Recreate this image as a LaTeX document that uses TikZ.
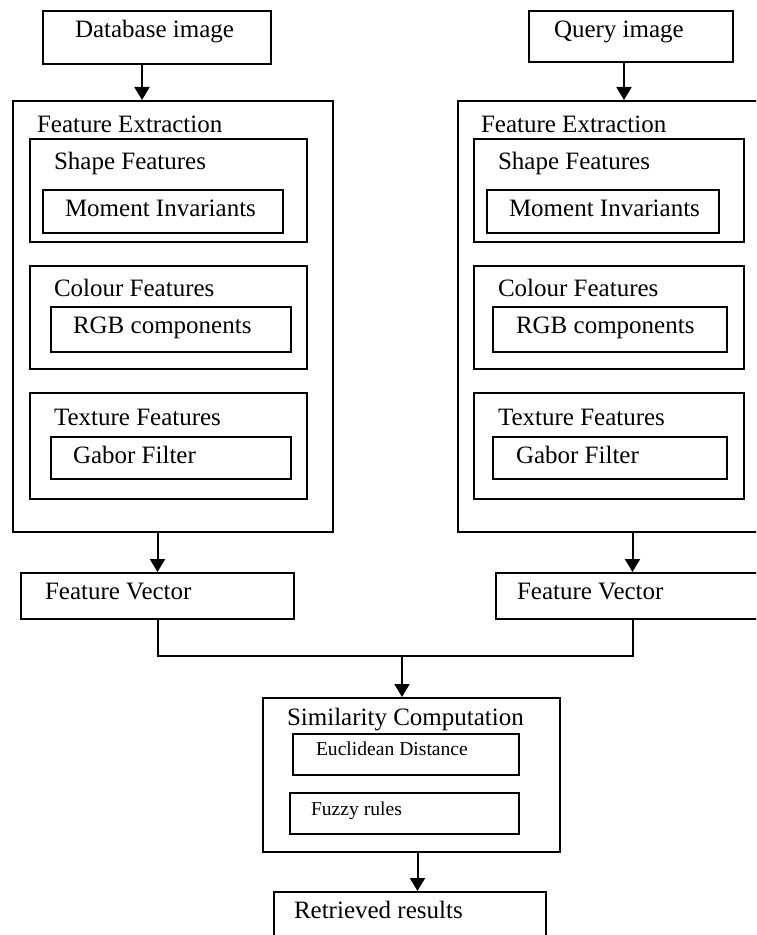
\documentclass[tikz,border=0pt]{standalone}
\usepackage{fontspec}
\setmainfont{Liberation Serif}
\usetikzlibrary{calc}
\usetikzlibrary{arrows.meta}

\begin{document}
\begin{tikzpicture}[>={Triangle[length=6.5pt,width=7.5pt]}, x=0.5pt, y=-0.5pt, line width=1pt]
\tikzset{box/.style 2 args={draw,anchor=north west,inner sep=0,minimum width=#1,minimum height=#2}}
\tikzset{txt/.style={anchor=base west,inner sep=0,font=\fontsize{12.5}{14}\selectfont}}
\tikzset{small/.style={txt,font=\fontsize{9.8}{11}\selectfont}}

\useasboundingbox (0,0) rectangle (756,935);
\clip (0,0) rectangle (756,935);

% database side
\node[box={114pt}{26.5pt}] (db) at (42,10) {};
\node[txt] (dbt) at ($(db.north west)+(32,28)$) {Database image};

\node[box={160pt}{215.5pt}] (outL) at (12,100) {};
\node[txt] (outLt) at ($(outL.north west)+(24,33)$) {Feature Extraction};

\node[box={138.5pt}{51.5pt}] (shpL) at (29,138) {};
\node[txt] (shpLt) at ($(shpL.north west)+(24,32)$) {Shape Features};
\node[box={120pt}{21.5pt}] (momL) at (42,189) {};
\node[txt] (momLt) at ($(momL.north west)+(22,28)$) {Moment Invariants};

\node[box={138.5pt}{51.5pt}] (colL) at (29,265) {};
\node[txt] (colLt) at ($(colL.north west)+(24,32)$) {Colour Features};
\node[box={120pt}{22.5pt}] (rgbL) at (50,306) {};
\node[txt] (rgbLt) at ($(rgbL.north west)+(22,27)$) {RGB components};

\node[box={138.5pt}{53pt}] (texL) at (29,392) {};
\node[txt] (texLt) at ($(texL.north west)+(24,33)$) {Texture Features};
\node[box={120pt}{21pt}] (gabL) at (50,436) {};
\node[txt] (gabLt) at ($(gabL.north west)+(22,27)$) {Gabor Filter};

\node[box={136.5pt}{23pt}] (fvL) at (20,572) {};
\node[txt] (fvLt) at ($(fvL.north west)+(24,27)$) {Feature Vector};

% query side
\node[box={102pt}{25.5pt}] (qry) at (528,10) {};
\node[txt] (qryt) at ($(qry.north west)+(25,28)$) {Query image};

\node[box={160pt}{215.5pt}] (outR) at (457,100) {};
\node[txt] (outRt) at ($(outR.north west)+(23,33)$) {Feature Extraction};

\node[box={135pt}{51.5pt}] (shpR) at (473,138) {};
\node[txt] (shpRt) at ($(shpR.north west)+(24,32)$) {Shape Features};
\node[box={116pt}{21.5pt}] (momR) at (486,189) {};
\node[txt] (momRt) at ($(momR.north west)+(22,28)$) {Moment Invariants};

\node[box={135pt}{51.5pt}] (colR) at (473,265) {};
\node[txt] (colRt) at ($(colR.north west)+(24,32)$) {Colour Features};
\node[box={117pt}{22.5pt}] (rgbR) at (492,306) {};
\node[txt] (rgbRt) at ($(rgbR.north west)+(23,27)$) {RGB components};

\node[box={135pt}{53pt}] (texR) at (473,392) {};
\node[txt] (texRt) at ($(texR.north west)+(24,33)$) {Texture Features};
\node[box={117pt}{21pt}] (gabR) at (492,436) {};
\node[txt] (gabRt) at ($(gabR.north west)+(23,27)$) {Gabor Filter};

\node[box={136.5pt}{23pt}] (fvR) at (495,572) {};
\node[txt] (fvRt) at ($(fvR.north west)+(21,27)$) {Feature Vector};

% matching
\node[box={148.5pt}{77pt}] (sim) at (262,697) {};
\node[txt] (simt) at ($(sim.north west)+(24,28)$) {Similarity Computation};
\node[box={113pt}{20.5pt}] (euc) at (292,733) {};
\node[small] (euct) at ($(euc.north west)+(23,22)$) {Euclidean Distance};
\node[box={114.5pt}{20.5pt}] (fuz) at (289,792) {};
\node[small] (fuzt) at ($(fuz.north west)+(21,23)$) {Fuzzy rules};

\node[box={136pt}{35pt}] (res) at (273,891) {};
\node[txt] (rest) at ($(res.north west)+(20,27)$) {Retrieved results};

% connectors
\coordinate (dbout) at ([xshift=-7.5pt]db.south);
\draw[->] (dbout) -- (dbout |- outL.north);
\coordinate (qryout) at ([xshift=-3.5pt]qry.south);
\draw[->] (qryout) -- (qryout |- outR.north);

\draw[->] (outL.south -| fvL.north) -- (fvL.north);
\draw[->] (outR.south -| fvR.north) -- (fvR.north);

\coordinate (join) at (402,656);
\draw (fvL.south) |- (join) -| (fvR.south);
\draw[->] (join) -- (join |- sim.north);

\coordinate (simout) at ([xshift=3pt]sim.south);
\draw[->] (simout) -- (simout |- res.north);

\end{tikzpicture}
\end{document}
